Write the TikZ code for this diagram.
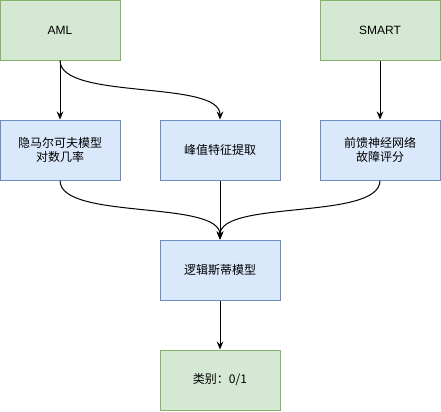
\documentclass[tikz,border=0pt]{standalone}
\usepackage{fontspec}
\setmainfont{Liberation Sans}
\newfontfamily\cjk{Noto Sans CJK SC}
\usepackage{xcolor}
\usetikzlibrary{arrows.meta, positioning, calc}

\definecolor{gfill}{HTML}{D5E8D4}
\definecolor{gline}{HTML}{82B366}
\definecolor{bfill}{HTML}{DAE8FC}
\definecolor{bline}{HTML}{6C8EBF}

\tikzset{
  box/.style={draw, line width=0.75pt, minimum width=90pt, minimum height=45pt,
    inner sep=0pt, align=center, font=\fontsize{9}{11}\selectfont\cjk},
  srcbox/.style={box, fill=gfill, draw=gline},
  procbox/.style={box, fill=bfill, draw=bline},
  flow/.style={line width=0.75pt, -{Stealth[length=6pt, width=5pt, inset=2pt]}}
}

\begin{document}
\begin{tikzpicture}[x=0.75pt, y=0.75pt]
\useasboundingbox (0,0) rectangle (441,-411);

% inputs
\node[srcbox] (aml) at (60,-30) {\fontsize{9}{11}\selectfont\rmfamily AML};
\node[srcbox] (smart) at (380,-30) {\fontsize{9}{11}\selectfont\rmfamily SMART};

% features
\node[procbox] (hmm) at (60,-150) {隐马尔可夫模型\\对数几率};
\node[procbox] (peak) at (220,-150) {峰值特征提取};
\node[procbox] (ffnn) at (380,-150) {前馈神经网络\\故障评分};

% model and output
\node[procbox] (logit) at (220,-270) {逻辑斯蒂模型};
\node[srcbox] (cls) at (220,-380) {类别：0/1};

% edges
\draw[flow] (aml.south) -- (hmm.north);
\draw[flow] (aml.south) .. controls +(0,-40) and +(0,40) .. (peak.north);
\draw[flow] (smart.south) -- (ffnn.north);

\draw[flow] (hmm.south) .. controls +(0,-40) and +(0,40) .. (logit.north);
\draw[flow] (peak.south) -- (logit.north);
\draw[flow] (ffnn.south) .. controls +(0,-40) and +(0,40) .. (logit.north);

\draw[flow] (logit.south) -- (cls.north);
\end{tikzpicture}
\end{document}
